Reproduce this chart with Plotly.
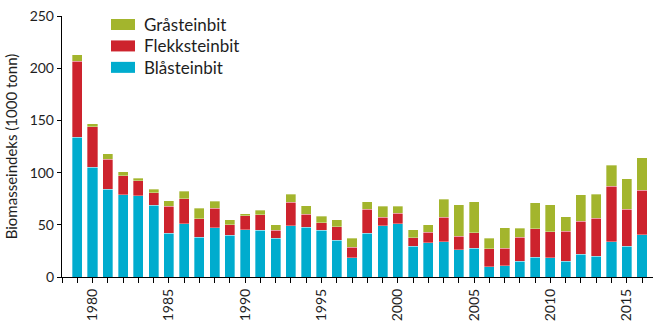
import plotly.graph_objects as go

# Biomass index of wolffish species (1000 tonnes), 1979-2016
years = list(range(1979, 2017))

blasteinbit = [134, 105, 84, 79, 78, 68.5, 42, 51, 38, 47, 40, 45.5, 44.8,
               37, 49, 47.7, 45, 35, 18.6, 42, 49, 51, 29.4, 33, 33.6,
               26, 27.5, 10, 11, 15, 19, 18.6, 15, 22, 20, 33.6, 29.4, 40.3]
flekksteinbit = [72.6, 39, 29, 18, 14, 12, 26, 24, 18, 19, 10, 13, 14.7,
                 8, 22.5, 12.4, 7, 13, 10, 23, 8, 10, 8, 10, 23.7,
                 13, 14.7, 17, 16.6, 23, 27, 24.6, 29, 31.6, 36.5, 53.4, 35.5, 42.8]
grasteinbit = [6.4, 3, 5, 4, 2.5, 3.5, 5, 7, 10, 6.5, 5, 2, 4.6,
               5, 8, 8, 6, 7, 8.6, 7, 10.6, 7, 8, 7, 17,
               30.4, 29.7, 10, 19.6, 8.6, 25, 25.8, 13.7, 25.2, 22.7, 20.1, 29.1, 31]

series = [
    ("Blåsteinbit", blasteinbit, "#00acce"),
    ("Flekksteinbit", flekksteinbit, "#cd232d"),
    ("Gråsteinbit", grasteinbit, "#a3b52d"),
]

tick_years = list(range(1978, 2017))
tick_text = [str(y) if y % 5 == 0 else "" for y in tick_years]

FONT = "Lato, 'Open Sans', sans-serif"
TEXT = "#1e1e1e"

fig = go.Figure()
for name, vals, color in series:
    fig.add_trace(go.Bar(
        x=years, y=vals, name=name,
        marker=dict(color=color, line=dict(color="rgba(255,255,255,0.55)", width=0.6)),
        showlegend=False,
    ))

# Legend drawn as wide swatches with labels in the upper left of the plot
legend_rows = [("Gråsteinbit", "#a3b52d", 0), ("Flekksteinbit", "#cd232d", 1), ("Blåsteinbit", "#00acce", 2)]
top_px = 16
plot_h = 325 - 16 - 48.3
plot_w = 653 - 62


def to_paper_y(p):
    return 1 - (p - top_px) / plot_h


def to_paper_x(p):
    return (p - 62) / plot_w


shapes = []
annotations = []
for label, color, i in legend_rows:
    y0_px = 19 + i * 21.4
    y1_px = y0_px + 11
    shapes.append(dict(type="rect", xref="paper", yref="paper",
                       x0=to_paper_x(111), x1=to_paper_x(135),
                       y0=to_paper_y(y1_px), y1=to_paper_y(y0_px),
                       fillcolor=color, line=dict(width=0)))
    annotations.append(dict(xref="paper", yref="paper", x=to_paper_x(142),
                            y=to_paper_y((y0_px + y1_px) / 2), text=label,
                            showarrow=False, xanchor="left", yanchor="middle",
                            font=dict(family=FONT, size=17, color=TEXT)))

fig.update_layout(
    barmode="stack",
    bargap=0.34,
    width=653, height=325,
    margin=dict(l=62, r=0, t=16, b=48.3),
    paper_bgcolor="white", plot_bgcolor="white",
    font=dict(family=FONT, size=14, color=TEXT),
    shapes=shapes,
    annotations=annotations,
    xaxis=dict(
        range=[1978, 2016.72],
        tickmode="array", tickvals=tick_years, ticktext=tick_text,
        tickangle=-90, ticks="outside", ticklen=5, tickwidth=1.2, tickcolor="black",
        showline=True, linecolor="black", linewidth=1.4,
        showgrid=False, zeroline=False,
        tickfont=dict(family=FONT, size=14, color=TEXT),
    ),
    yaxis=dict(
        range=[0, 250], tickvals=[0, 50, 100, 150, 200, 250],
        ticks="outside", ticklen=4, tickwidth=1.2, tickcolor="black",
        showline=True, linecolor="black", linewidth=1.4,
        showgrid=False, zeroline=False,
        title=dict(text="Biomasseindeks (1000 tonn)", standoff=8,
                   font=dict(family=FONT, size=15, color=TEXT)),
        tickfont=dict(family=FONT, size=14, color=TEXT),
    ),
)

fig.write_html("out.html")
